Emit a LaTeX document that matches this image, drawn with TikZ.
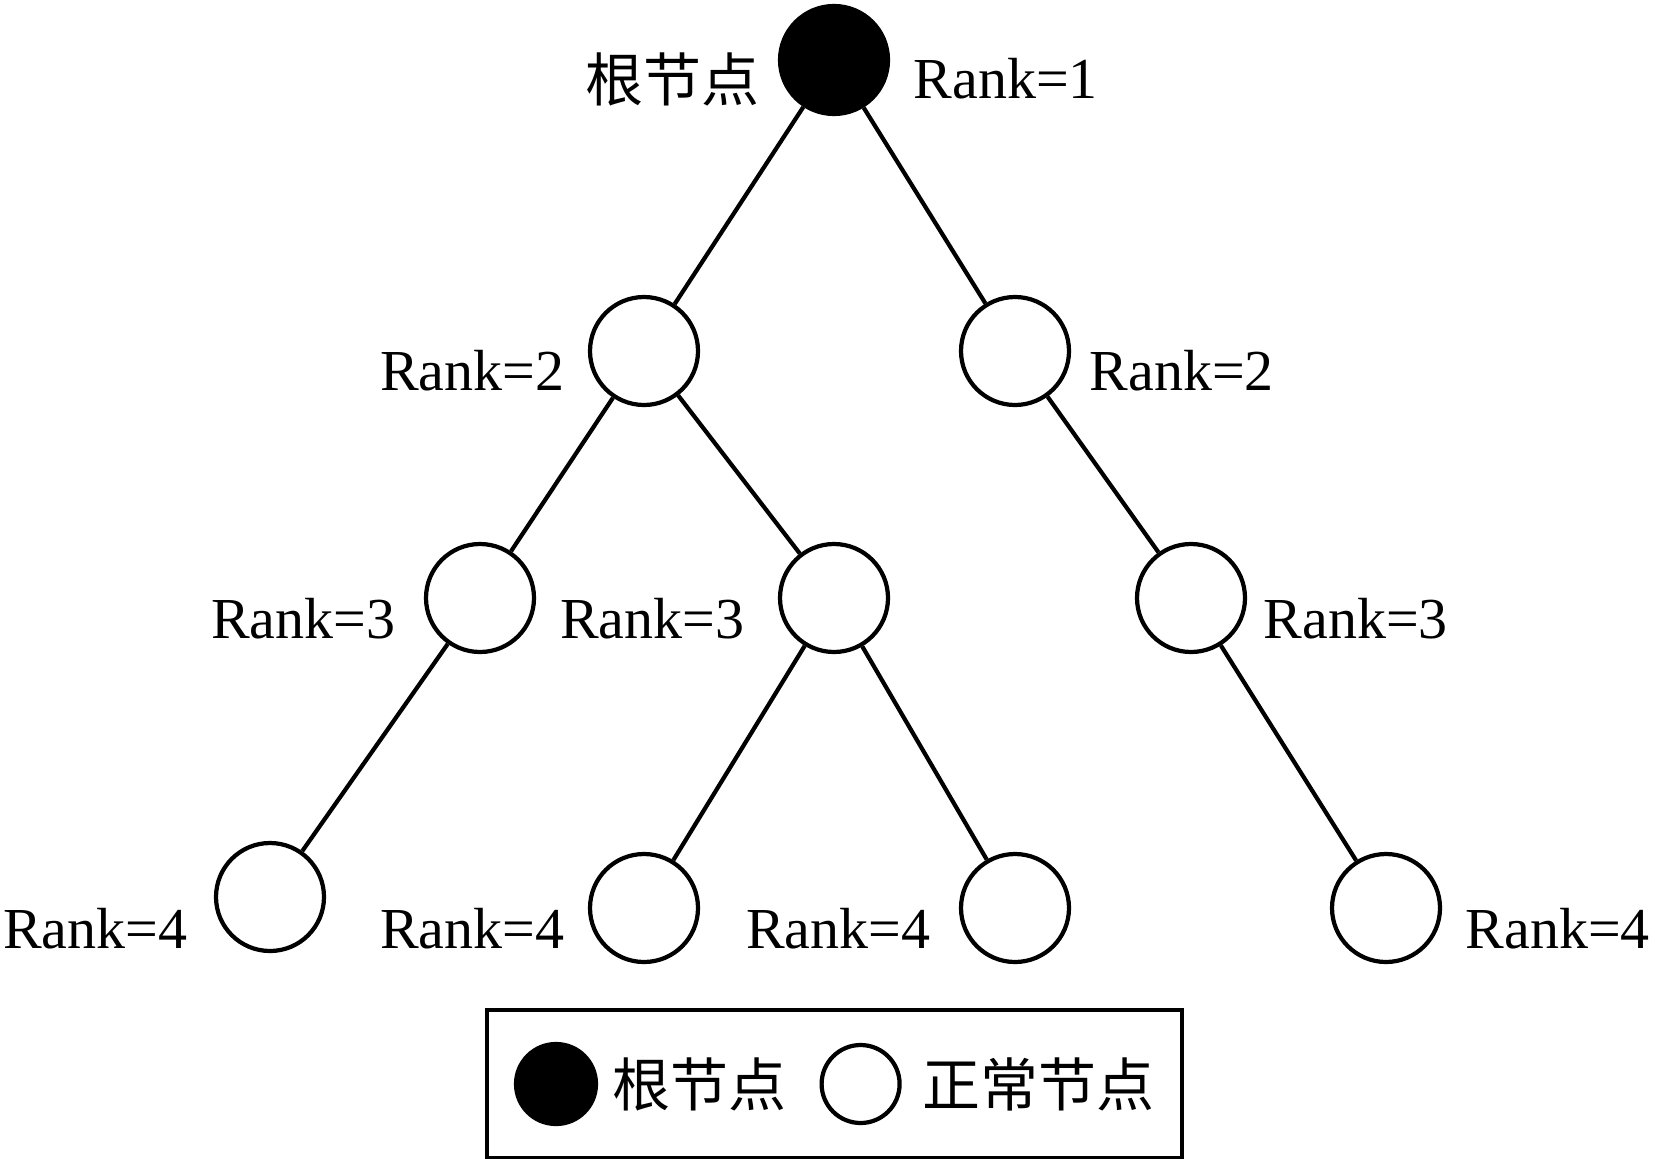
\documentclass[tikz,border=0pt]{standalone}
\usepackage{fontspec}
\setmainfont{Liberation Serif}
\newfontfamily\cjk{Noto Sans CJK SC}
\usepackage{tikz}
\usetikzlibrary{positioning,fit}
\tikzstyle{rootnode} = [circle, draw=black, line width=1.2pt, fill=black, minimum size=1.08cm, inner sep=0pt, on grid]
\tikzstyle{normal} = [circle, draw=black, line width=1.2pt, fill=white, minimum size=1.08cm, inner sep=0pt, on grid]
\tikzstyle{rank} = [inner sep=0pt, font=\fontsize{16.5}{20}\selectfont]
\tikzstyle{cjklbl} = [inner sep=0pt, font=\cjk\fontsize{16.5}{20}\selectfont]
\tikzstyle{tedge}  = [draw, line width=1.2pt]

\begin{document}
\begin{tikzpicture}
\useasboundingbox (0,0) rectangle (16.55,-11.58);

% tree nodes =============================

% root
\node[rootnode] (root) at (8.34,-0.60) {};

% rank 2
\node[normal, below left=2.91cm and 1.90cm of root] (n2l) {};
\node[normal, below right=2.91cm and 1.81cm of root] (n2r) {};

% rank 3
\node[normal, below left=2.47cm and 1.64cm of n2l] (n3l) {};
\node[normal, below right=2.47cm and 1.90cm of n2l] (n3m) {};
\node[normal, below right=2.47cm and 1.76cm of n2r] (n3r) {};

% rank 4
\node[normal, below left=2.99cm and 2.10cm of n3l] (n4a) {};
\node[normal, below left=3.10cm and 1.90cm of n3m] (n4b) {};
\node[normal, below right=3.10cm and 1.81cm of n3m] (n4c) {};
\node[normal, below right=3.10cm and 1.95cm of n3r] (n4d) {};

% labels
\node[cjklbl, left=0.18cm of root, yshift=-0.19cm] (rootlbl) {根节点};
\node[rank, right=0.23cm of root, yshift=-0.19cm] (r1) {Rank=1};
\node[rank, left=0.23cm of n2l, yshift=-0.20cm] (r2l) {Rank=2};
\node[rank, right=0.18cm of n2r, yshift=-0.20cm] (r2r) {Rank=2};
\node[rank, left=0.28cm of n3l, yshift=-0.21cm] (r3l) {Rank=3};
\node[rank, left=0.33cm of n3m, yshift=-0.21cm] (r3m) {Rank=3};
\node[rank, right=0.16cm of n3r, yshift=-0.21cm] (r3r) {Rank=3};
\node[rank, left=0.26cm of n4a, yshift=-0.32cm] (r4a) {Rank=4};
\node[rank, left=0.23cm of n4b, yshift=-0.21cm] (r4b) {Rank=4};
\node[rank, left=0.28cm of n4c, yshift=-0.21cm] (r4c) {Rank=4};
\node[rank, right=0.23cm of n4d, yshift=-0.21cm] (r4d) {Rank=4};

% legend
\node[rootnode, minimum size=0.80cm] (legroot) at (5.56,-10.84) {};
\node[cjklbl, right=0.14cm of legroot] (legtxt1) {根节点};
\node[normal, on grid=false, minimum size=0.78cm, right=0.32cm of legtxt1] (legnorm) {};
\node[cjklbl, right=0.20cm of legnorm] (legtxt2) {正常节点};
\node[draw, line width=1.2pt, fit=(legroot)(legtxt2), inner xsep=0.27cm, inner ysep=0.32cm] (legend) {};

%edges
\path[tedge] (root) -- (n2l);
\path[tedge] (root) -- (n2r);
\path[tedge] (n2l) -- (n3l);
\path[tedge] (n2l) -- (n3m);
\path[tedge] (n2r) -- (n3r);
\path[tedge] (n3l) -- (n4a);
\path[tedge] (n3m) -- (n4b);
\path[tedge] (n3m) -- (n4c);
\path[tedge] (n3r) -- (n4d);

\end{tikzpicture}
\end{document}
